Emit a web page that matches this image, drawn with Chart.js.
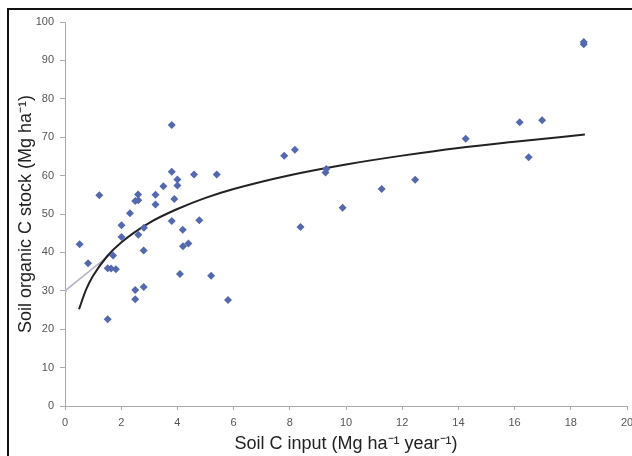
<!DOCTYPE html>
<html lang="en">
<head>
<meta charset="UTF-8">
<title>Soil C input vs soil organic C stock</title>
<script src="https://cdn.jsdelivr.net/npm/chart.js"></script>
<style>
  html, body { margin: 0; padding: 0; background: #fff; }
  #wrap { width: 632px; height: 456px; position: relative; }
</style>
</head>
<body>
<div id="wrap"><canvas id="soilChart"></canvas></div>
<script>
// observed points (Mg ha-1 year-1, Mg ha-1)
const inputX = [0.52, 0.82, 1.22, 1.52, 1.52, 1.64, 1.71, 1.81, 2.01, 2.01,
                2.31, 2.5, 2.6, 2.61, 2.61, 2.81, 2.8, 2.5, 2.5, 2.8,
                3.22, 3.22, 3.5, 3.8, 3.8, 3.89, 4.0, 4.0, 3.8, 4.19,
                4.2, 4.39, 4.09, 4.59, 4.78, 5.4, 5.2, 5.8, 7.8, 8.18,
                8.38, 9.27, 9.3, 9.88, 11.27, 12.46, 14.26, 16.18, 16.5, 16.98,
                18.46, 18.46];
const stockY = [42.1, 37.2, 54.9, 22.6, 35.9, 35.8, 39.2, 35.6, 47.1, 44.0,
                50.2, 53.4, 55.1, 53.6, 44.6, 46.4, 40.5, 30.2, 27.8, 31.0,
                55.0, 52.5, 57.2, 73.2, 61.0, 53.9, 59.0, 57.4, 48.2, 45.9,
                41.6, 42.3, 34.4, 60.3, 48.4, 60.3, 33.9, 27.6, 65.2, 66.7,
                46.6, 60.8, 61.7, 51.6, 56.5, 58.9, 69.6, 73.9, 64.8, 74.4,
                94.8, 94.2];

// fitted curve
const curveX = [0.5, 0.75, 1, 1.5, 2, 3, 4, 5, 6, 8, 10, 12, 14, 16, 18.5];
const curveY = [25.2, 30.3, 33.9, 39.0, 42.6, 47.7, 51.3, 54.2, 56.5, 60.1, 62.9, 65.2, 67.2, 68.8, 70.7];

// grey line from the y-axis
const leadX = [0, 1.6];
const leadY = [30, 39.4];

const xTicks = [0, 2, 4, 6, 8, 10, 12, 14, 16, 18, 20];
const yTicks = [0, 10, 20, 30, 40, 50, 60, 70, 80, 90, 100];

const toPts = (xs, ys) => xs.map((x, i) => ({ x: x, y: ys[i] }));

const tickFont = { family: "'Liberation Sans', Arial, sans-serif", size: 11 };
const titleFont = { family: "'Liberation Sans', Arial, sans-serif", size: 18 };

// black frame round the picture
const framePlugin = {
  id: 'frame',
  afterDraw(chart) {
    const c = chart.ctx;
    c.save();
    c.strokeStyle = '#111';
    c.lineWidth = 2;
    c.beginPath();
    c.moveTo(8, 456);
    c.lineTo(8, 9);
    c.lineTo(632, 9);
    c.stroke();
    c.restore();
  }
};

new Chart(document.getElementById('soilChart'), {
  type: 'scatter',
  data: {
    datasets: [
      {
        label: 'lead',
        type: 'line',
        data: toPts(leadX, leadY),
        borderColor: '#b4b4cc',
        borderWidth: 1.5,
        pointRadius: [2, 0],
        pointBackgroundColor: '#b4b4cc',
        pointBorderWidth: 0,
        fill: false,
        order: 3
      },
      {
        label: 'fit',
        type: 'line',
        data: toPts(curveX, curveY),
        borderColor: '#222',
        borderWidth: 2,
        pointRadius: 0,
        cubicInterpolationMode: 'monotone',
        fill: false,
        order: 2
      },
      {
        label: 'sites',
        data: toPts(inputX, stockY),
        pointStyle: 'rectRot',
        pointRadius: 4,
        backgroundColor: '#5468ad',
        borderColor: '#5468ad',
        borderWidth: 0,
        order: 1
      }
    ]
  },
  options: {
    responsive: true,
    maintainAspectRatio: false,
    animation: false,
    layout: { padding: { top: 22, right: 5, left: 15, bottom: 0 } },
    plugins: { legend: { display: false }, tooltip: { enabled: false } },
    scales: {
      x: {
        type: 'linear',
        min: 0, max: 20,
        afterBuildTicks: s => { s.ticks = xTicks.map(v => ({ value: v })); },
        afterFit: s => { s.height = 50; s.paddingLeft = 0; s.paddingRight = 0; },
        grid: { drawOnChartArea: false, color: '#aaa', tickLength: 4 },
        border: { color: '#aaa', width: 1 },
        ticks: { color: '#555', font: tickFont, padding: 6, maxRotation: 0 },
        title: {
          display: true,
          text: 'Soil C input (Mg ha\u207B\u00B9 year\u207B\u00B9)',
          color: '#222',
          font: titleFont,
          padding: { top: 0, bottom: 1 }
        }
      },
      y: {
        type: 'linear',
        min: 0, max: 100,
        afterBuildTicks: s => { s.ticks = yTicks.map(v => ({ value: v })); },
        afterFit: s => { s.width = 50; s.paddingTop = 0; s.paddingBottom = 0; },
        grid: { drawOnChartArea: false, color: '#aaa', tickLength: 5 },
        border: { color: '#aaa', width: 1 },
        ticks: { color: '#555', font: tickFont, padding: 6 },
        title: {
          display: true,
          text: 'Soil organic C stock (Mg ha\u207B\u00B9)',
          color: '#222',
          font: titleFont,
          padding: { top: 0, bottom: 0 }
        }
      }
    }
  },
  plugins: [framePlugin]
});
</script>
</body>
</html>
